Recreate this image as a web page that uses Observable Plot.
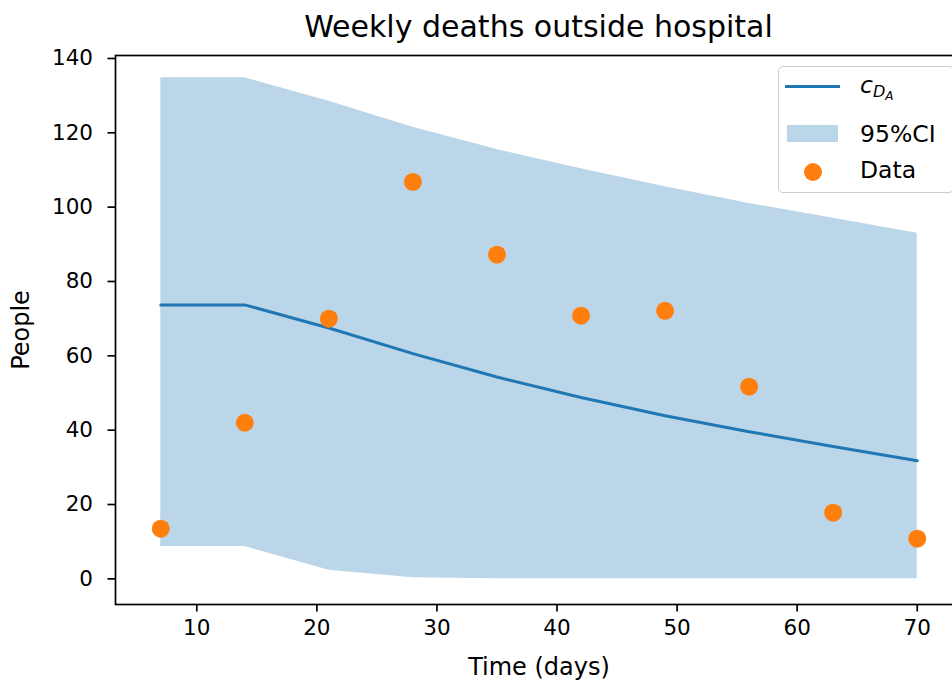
<!DOCTYPE html>
<html>
<head>
<meta charset="utf-8">
<script src="https://cdn.jsdelivr.net/npm/d3@7"></script>
<script src="https://cdn.jsdelivr.net/npm/@observablehq/plot@0.6"></script>
<style>
  html, body { margin: 0; padding: 0; background: #fff; overflow: hidden; }
  #wrap { position: relative; width: 952px; height: 681px; overflow: hidden; font-family: "DejaVu Sans", sans-serif; color: #000; }
  #chart { width: 962px; height: 681px; }
  #chart svg { max-width: none !important; }
  #title { position: absolute; left: 0; top: 9.5px; width: 1077px; text-align: center; font-size: 30px; line-height: 34px; }
  #legend { position: absolute; left: 778px; top: 66px; width: 176px; height: 127px; box-sizing: border-box;
            border: 1.5px solid #cccccc; border-radius: 5px; background: rgba(255,255,255,0.8); }
  .lg { position: absolute; }
  .lt { position: absolute; left: 860px; font-size: 23.5px; line-height: 26px; white-space: nowrap; }
</style>
</head>
<body>
<div id="wrap">
  <div id="chart"></div>
  <div id="title">Weekly deaths outside hospital</div>
  <div id="legend"></div>
  <div class="lg" style="left:785px; top:84.5px; width:55px; height:3px; background:#1f77b4;"></div>
  <div class="lg" style="left:787px; top:125px; width:51px; height:17px; background:rgba(31,119,180,0.3);"></div>
  <div class="lg" style="left:804px; top:163px; width:18px; height:18px; border-radius:50%; background:#ff7f0e;"></div>
  <div class="lt" style="top:72px;"><i>c</i><sub style="font-size:16px; vertical-align:-4px;"><i>D</i><sub style="font-size:12px; vertical-align:-3px;"><i>A</i></sub></sub></div>
  <div class="lt" style="top:120.5px;">95%CI</div>
  <div class="lt" style="top:157px;">Data</div>
</div>
<script>
// Data
const weeks    = [7, 14, 21, 28, 35, 42, 49, 56, 63, 70];
const ciUpper  = [134.8, 134.8, 128.5, 121.5, 115.5, 110.3, 105.5, 101.0, 97.0, 93.0];
const ciLower  = [8.7, 8.7, 2.3, 0.3, 0, 0, 0, 0, 0, 0];
const model    = [73.7, 73.7, 67.5, 60.6, 54.3, 48.8, 43.9, 39.6, 35.6, 31.8];
const observed = [13.5, 42.0, 70.0, 106.8, 87.2, 70.8, 72.1, 51.7, 17.8, 10.8];
const xTicks   = [10, 20, 30, 40, 50, 60, 70];
const yTicks   = [0, 20, 40, 60, 80, 100, 120, 140];

const rows = weeks.map((w, i) => ({w, lo: ciLower[i], hi: ciUpper[i], m: model[i], obs: observed[i]}));

const chart = Plot.plot({
  width: 962,
  height: 681,
  marginLeft: 115,
  marginRight: 0,
  marginTop: 55,
  marginBottom: 77,
  style: {fontFamily: "DejaVu Sans", fontSize: "21.5px", color: "#000", background: "transparent", maxWidth: "none"},
  x: {domain: [3.23, 73.77]},
  y: {domain: [-6.9, 140.8]},
  marks: [
    Plot.areaY(rows, {x: "w", y1: "lo", y2: "hi", fill: "#1f77b4", fillOpacity: 0.3}),
    Plot.lineY(rows, {x: "w", y: "m", stroke: "#1f77b4", strokeWidth: 3}),
    Plot.dot(rows, {x: "w", y: "obs", fill: "#ff7f0e", r: 9}),
    Plot.axisX({ticks: xTicks, tickSize: 7.5, tickPadding: 8, strokeWidth: 1.7, tickFormat: d => String(d), label: null}),
    Plot.axisX({ticks: [], label: "Time (days)", labelArrow: "none", labelAnchor: "center", labelOffset: 70, fontSize: 24}),
    Plot.axisY({ticks: yTicks, tickSize: 7.5, tickPadding: 15, strokeWidth: 1.7, tickFormat: d => String(d), label: null}),
    Plot.axisY({ticks: [], label: "People", labelArrow: "none", labelAnchor: "center", labelOffset: 104, fontSize: 24}),
    Plot.frame({stroke: "#000", strokeWidth: 1.7})
  ]
});
document.getElementById("chart").appendChild(chart);
</script>
</body>
</html>
